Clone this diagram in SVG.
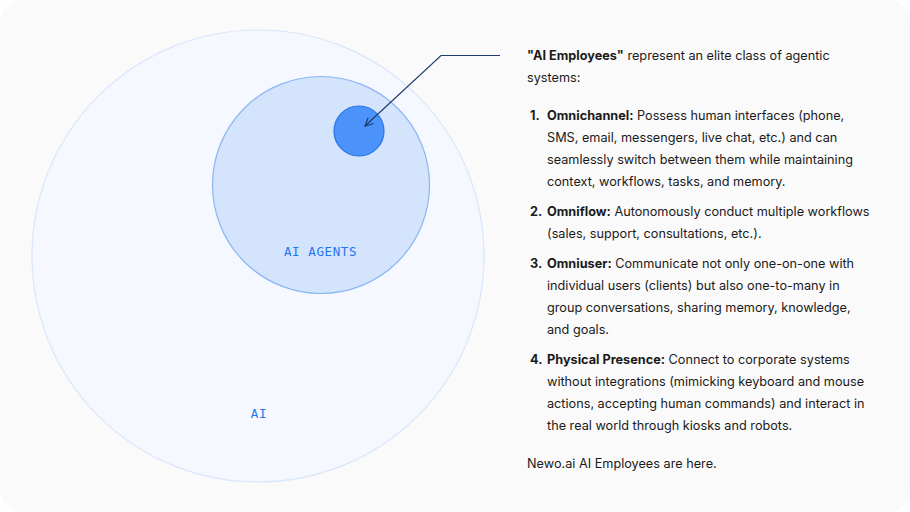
<svg xmlns="http://www.w3.org/2000/svg" width="910" height="512" viewBox="0 0 910 512">
<style>
.t{font-family:Inter,"Noto Sans","Liberation Sans",sans-serif;font-size:12.7px;fill:#1a1a1a}
.b{font-weight:700}
.m{font-family:"DejaVu Sans Mono","Liberation Mono",monospace;font-size:12.5px;fill:#1f74f0;letter-spacing:0.6px}
</style>
<defs>
<marker id="arr" markerWidth="10" markerHeight="10" refX="9" refY="5" orient="auto" markerUnits="userSpaceOnUse">
<path d="M1,1 L9,5 L1,9" fill="none" stroke="#1f3b6e" stroke-width="1.2"/>
</marker>
</defs>
<rect x="0" y="0" width="910" height="512" rx="22" fill="#fafafa"/>
<g id="node-ai">
<circle cx="258" cy="256" r="226" fill="#f5f8ff" stroke="#d9e6fb" stroke-width="1.2"/>
<text class="m" x="259" y="418" text-anchor="middle">AI</text>
</g>
<g id="node-agents">
<circle cx="321" cy="185" r="108.5" fill="#d3e4fc" stroke="#8bb6f4" stroke-width="1.2"/>
<text class="m" x="320.5" y="256" text-anchor="middle">AI AGENTS</text>
</g>
<g id="node-employees">
<circle cx="359" cy="131" r="25" fill="#4b93fa" stroke="#2a73e6" stroke-width="1.2"/>
</g>
<g id="connectors">
<path d="M500,55.5 H441 L365,126" fill="none" stroke="#1f3b6e" stroke-width="1.2" marker-end="url(#arr)"/>
</g>
<g id="text">
<text class="t" x="527" y="60"><tspan class="b">"AI Employees"</tspan> represent an elite class of agentic</text>
<text class="t" x="527" y="82">systems:</text>
<text class="t b" x="530" y="120">1.</text>
<text class="t" x="547" y="120"><tspan class="b">Omnichannel:</tspan> Possess human interfaces (phone,</text>
<text class="t" x="547" y="142">SMS, email, messengers, live chat, etc.) and can</text>
<text class="t" x="547" y="164">seamlessly switch between them while maintaining</text>
<text class="t" x="547" y="186">context, workflows, tasks, and memory.</text>
<text class="t b" x="530" y="216">2.</text>
<text class="t" x="547" y="216"><tspan class="b">Omniflow:</tspan> Autonomously conduct multiple workflows</text>
<text class="t" x="547" y="238">(sales, support, consultations, etc.).</text>
<text class="t b" x="530" y="268">3.</text>
<text class="t" x="547" y="268"><tspan class="b">Omniuser:</tspan> Communicate not only one-on-one with</text>
<text class="t" x="547" y="290">individual users (clients) but also one-to-many in</text>
<text class="t" x="547" y="312">group conversations, sharing memory, knowledge,</text>
<text class="t" x="547" y="334">and goals.</text>
<text class="t b" x="530" y="364">4.</text>
<text class="t" x="547" y="364"><tspan class="b">Physical Presence:</tspan> Connect to corporate systems</text>
<text class="t" x="547" y="386">without integrations (mimicking keyboard and mouse</text>
<text class="t" x="547" y="408">actions, accepting human commands) and interact in</text>
<text class="t" x="547" y="430">the real world through kiosks and robots.</text>
<text class="t" x="527" y="468">Newo.ai AI Employees are here.</text>
</g>
</svg>
